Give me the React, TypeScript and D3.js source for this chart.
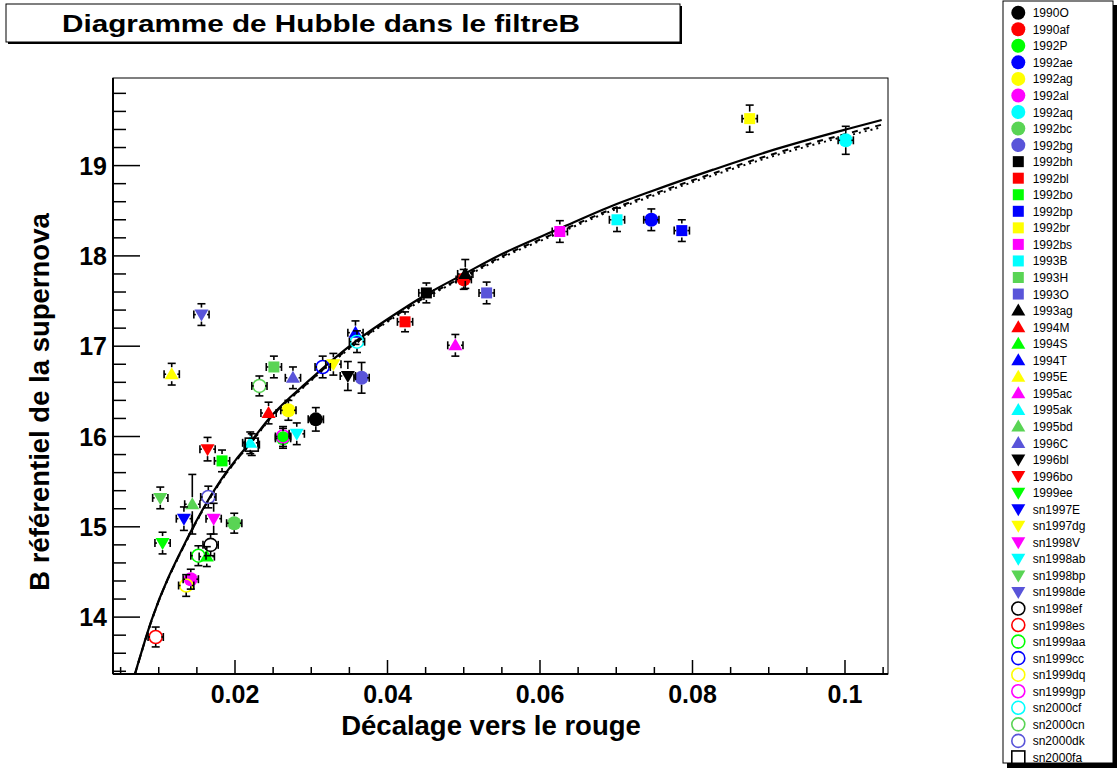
import React from "react";
import * as d3 from "d3";

// ---------- data ----------
const SN_NAMES = [
  "1990O", "1990af", "1992P", "1992ae", "1992ag", "1992al", "1992aq", "1992bc", "1992bg",
  "1992bh", "1992bl", "1992bo", "1992bp", "1992br", "1992bs", "1993B", "1993H", "1993O",
  "1993ag", "1994M", "1994S", "1994T", "1995E", "1995ac", "1995ak", "1995bd", "1996C",
  "1996bl", "1996bo", "1999ee", "sn1997E", "sn1997dg", "sn1998V", "sn1998ab", "sn1998bp", "sn1998de",
  "sn1998ef", "sn1998es", "sn1999aa", "sn1999cc", "sn1999dq", "sn1999gp", "sn2000cf", "sn2000cn", "sn2000dk",
  "sn2000fa",
];
const REDSHIFT = [
  0.0306, 0.05, 0.0263, 0.0746, 0.027, 0.0142, 0.1001, 0.0199, 0.0366,
  0.0451, 0.0423, 0.0183, 0.0786, 0.0875, 0.0626, 0.0701, 0.0251, 0.053,
  0.0502, 0.0244, 0.0163, 0.0358, 0.0117, 0.0489, 0.022, 0.0144, 0.0276,
  0.0348, 0.0164, 0.0105, 0.0133, 0.0329, 0.0172, 0.0281, 0.0102, 0.0156,
  0.0168, 0.0096, 0.0152, 0.0315, 0.0136, 0.0263, 0.036, 0.0232, 0.0165,
  0.0222,
];
const MAG_B = [
  16.19, 17.74, 15.98, 18.4, 16.29, 14.42, 19.28, 15.04, 16.65,
  17.59, 17.27, 15.73, 18.28, 19.52, 18.27, 18.4, 16.77, 17.59,
  17.8, 16.26, 14.67, 17.15, 16.69, 17.01, 15.93, 15.25, 16.65,
  16.67, 15.86, 14.82, 15.09, 16.8, 15.09, 16.03, 15.32, 17.35,
  14.8, 13.78, 14.68, 16.77, 14.35, 16.0, 17.05, 16.56, 15.33,
  15.91,
];
const MAG_ERR = [
  0.13, 0.11, 0.11, 0.12, 0.11, 0.11, 0.155, 0.11, 0.17,
  0.11, 0.11, 0.12, 0.12, 0.15, 0.12, 0.13, 0.12, 0.12,
  0.16, 0.12, 0.11, 0.13, 0.12, 0.12, 0.12, 0.33, 0.12,
  0.16, 0.13, 0.12, 0.13, 0.12, 0.17, 0.12, 0.12, 0.12,
  0.12, 0.11, 0.11, 0.12, 0.12, 0.11, 0.12, 0.11, 0.12,
  0.12,
];
const Z_ERR = [
  0.001, 0.001, 0.001, 0.001, 0.001, 0.001, 0.001, 0.001, 0.001,
  0.001, 0.001, 0.001, 0.001, 0.001, 0.001, 0.001, 0.001, 0.001,
  0.001, 0.001, 0.001, 0.001, 0.001, 0.001, 0.001, 0.001, 0.001,
  0.001, 0.001, 0.001, 0.001, 0.001, 0.001, 0.001, 0.001, 0.001,
  0.001, 0.001, 0.001, 0.001, 0.001, 0.001, 0.001, 0.001, 0.001,
  0.001,
];

const CURVE_Z = [
  0.00689, 0.00908, 0.01374, 0.01816, 0.02013, 0.02197, 0.02437, 0.02984, 0.03578, 0.04164,
  0.04514, 0.05039, 0.05475, 0.06262, 0.06918, 0.07443, 0.08273, 0.09104, 0.10009, 0.10481,
];
const CURVE_SOLID = [
  13.374, 13.972, 14.87, 15.52, 15.744, 15.93, 16.19, 16.63, 17.05, 17.39,
  17.575, 17.815, 18.01, 18.305, 18.545, 18.71, 18.955, 19.185, 19.4, 19.505,
];
const CURVE_DASHED = [
  13.37, 13.968, 14.863, 15.51, 15.734, 15.919, 16.178, 16.615, 17.032, 17.37,
  17.553, 17.79, 17.983, 18.274, 18.51, 18.673, 18.914, 19.14, 19.35, 19.453,
];
const CURVE_DOTTED = [
  13.369, 13.965, 14.86, 15.506, 15.729, 15.914, 16.172, 16.608, 17.024, 17.359,
  17.541, 17.777, 17.969, 18.258, 18.493, 18.654, 18.893, 19.117, 19.325, 19.426,
];

const X_MAJOR = [0.02, 0.04, 0.06, 0.08, 0.1];
const X_LABELS = ["0.02", "0.04", "0.06", "0.08", "0.1"];
const Y_MAJOR = [14, 15, 16, 17, 18, 19];
const Y_LABELS = ["14", "15", "16", "17", "18", "19"];

const COLORS = ["#000000", "#ff0000", "#00ff00", "#0000ff", "#ffff00", "#ff00ff", "#00ffff", "#59d454", "#5954d9"];
const MARKER_TYPES = ["circle", "square", "triUp", "triDown", "openCircle", "openSquare"];

const TITLE = "Diagramme de Hubble dans le filtreB";
const X_TITLE = "Décalage vers le rouge";
const Y_TITLE = "B référentiel de la supernova";

// ---------- layout ----------
const W = 1119;
const H = 768;
const PL = 113, PR = 888, PT = 78, PB = 674;
const FONT = "'Liberation Sans', Arial, Helvetica, sans-serif";

function Marker({ type, color, cx, cy }: { type: string; color: string; cx: number; cy: number }) {
  if (type === "circle") return <circle cx={cx} cy={cy} r={7} fill={color} />;
  if (type === "square") return <rect x={cx - 5.5} y={cy - 5.5} width={11} height={11} fill={color} />;
  if (type === "triUp")
    return <polygon points={`${cx},${cy - 7} ${cx + 7},${cy + 5} ${cx - 7},${cy + 5}`} fill={color} />;
  if (type === "triDown")
    return <polygon points={`${cx},${cy + 7} ${cx + 7},${cy - 5} ${cx - 7},${cy - 5}`} fill={color} />;
  if (type === "openCircle") return <circle cx={cx} cy={cy} r={6.5} fill="none" stroke={color} strokeWidth={1.6} />;
  return <rect x={cx - 6.5} y={cy - 6.5} width={13} height={13} fill="none" stroke={color} strokeWidth={1.6} />;
}

export default function App() {
  const x = d3.scaleLinear().domain([0.004, 0.10564]).range([PL, PR]);
  const y = d3.scaleLinear().domain([13.37, 19.97]).range([PB, PT]);

  const pts = SN_NAMES.map((name, i) => ({
    name,
    z: REDSHIFT[i],
    m: MAG_B[i],
    em: MAG_ERR[i],
    ez: Z_ERR[i],
    type: MARKER_TYPES[Math.floor(i / 9)],
    color: COLORS[i % 9],
  }));

  const line = d3
    .line<number>()
    .x((_, i) => x(CURVE_Z[i]))
    .curve(d3.curveMonotoneX);
  const solidPath = line.y((d) => y(d))(CURVE_SOLID) || "";
  const dashedPath = line.y((d) => y(d))(CURVE_DASHED) || "";
  const dottedPath = line.y((d) => y(d))(CURVE_DOTTED) || "";

  const xMinor = d3.range(0.005, 0.1056, 0.005).filter((v) => !X_MAJOR.some((m) => Math.abs(m - v) < 1e-6));
  const yMinor = d3.range(13.4, 19.97, 0.2).filter((v) => !Y_MAJOR.some((m) => Math.abs(m - v) < 1e-6));

  const legendTop = 12.7;
  const legendStep = 16.55;

  return (
    <svg
      width={W}
      height={H}
      viewBox={`0 0 ${W} ${H}`}
      style={{ position: "absolute", left: 0, top: 0, background: "#fff" }}
      fontFamily={FONT}
    >
      <rect x={0} y={0} width={W} height={H} fill="#fff" />
      <defs>
        <clipPath id="plotclip">
          <rect x={PL} y={PT} width={PR - PL} height={PB - PT} />
        </clipPath>
      </defs>

      {/* Title box */}
      <rect x={8} y={6} width={674} height={38} fill="#000" />
      <rect x={6} y={4} width={674} height={38} fill="#fff" stroke="#000" strokeWidth={1} />
      <text x={62} y={32} fontSize={24} fontWeight="bold" textLength={518} lengthAdjust="spacingAndGlyphs">
        {TITLE}
      </text>

      {/* frame */}
      <rect x={PL} y={PT} width={PR - PL} height={PB - PT} fill="none" stroke="#000" strokeWidth={1} />

      {/* curves */}
      <g clipPath="url(#plotclip)" fill="none" stroke="#000">
        <path d={dottedPath} strokeWidth={2} strokeDasharray="2,4" />
        <path d={dashedPath} strokeWidth={2} strokeDasharray="6,6" />
        <path d={solidPath} strokeWidth={2.2} />
      </g>

      {/* markers */}
      <g>
        {pts.map((p) => (
          <Marker key={p.name} type={p.type} color={p.color} cx={x(p.z)} cy={y(p.m)} />
        ))}
      </g>
      {/* error bars */}
      <g stroke="#000" strokeWidth={1.6} fill="none">
        {pts.map((p) => {
          const cx = x(p.z);
          const cy = y(p.m);
          const yt = y(p.m + p.em);
          const yb = y(p.m - p.em);
          const xl = x(p.z - p.ez);
          const xr = x(p.z + p.ez);
          const gap = 7;
          return (
            <g key={p.name}>
              {cy - yt > gap && <line x1={cx} x2={cx} y1={cy - gap} y2={yt} />}
              {yb - cy > gap && <line x1={cx} x2={cx} y1={cy + gap} y2={yb} />}
              <line x1={cx - 4} x2={cx + 4} y1={yt} y2={yt} />
              <line x1={cx - 4} x2={cx + 4} y1={yb} y2={yb} />
              <line x1={xl} x2={xl} y1={cy - 4} y2={cy + 4} />
              <line x1={xr} x2={xr} y1={cy - 4} y2={cy + 4} />
              <line x1={xl} x2={xl + 2} y1={cy} y2={cy} />
              <line x1={xr - 2} x2={xr} y1={cy} y2={cy} />
            </g>
          );
        })}
      </g>

      {/* axes */}
      <g stroke="#000">
        <line x1={PL} x2={PR} y1={PB} y2={PB} strokeWidth={2} />
        <line x1={PL} x2={PL} y1={PT} y2={PB} strokeWidth={2} />
        {X_MAJOR.map((v) => (
          <line key={`xm${v}`} x1={x(v)} x2={x(v)} y1={PB} y2={PB - 14} strokeWidth={1.5} />
        ))}
        {xMinor.map((v) => (
          <line key={`xn${v}`} x1={x(v)} x2={x(v)} y1={PB} y2={PB - 7} strokeWidth={1.5} />
        ))}
        {Y_MAJOR.map((v) => (
          <line key={`ym${v}`} x1={PL} x2={PL + 27} y1={y(v)} y2={y(v)} strokeWidth={1.5} />
        ))}
        {yMinor.map((v) => (
          <line key={`yn${v}`} x1={PL} x2={PL + 13} y1={y(v)} y2={y(v)} strokeWidth={1.5} />
        ))}
      </g>
      <g fontSize={25} fontWeight="bold">
        {X_MAJOR.map((v, i) => (
          <text key={`xl${v}`} x={x(v)} y={703} textAnchor="middle">
            {X_LABELS[i]}
          </text>
        ))}
        {Y_MAJOR.map((v, i) => (
          <text key={`yl${v}`} x={107} y={y(v) + 9} textAnchor="end">
            {Y_LABELS[i]}
          </text>
        ))}
      </g>
      <text x={491} y={735} textAnchor="middle" fontSize={27.5} fontWeight="bold">
        {X_TITLE}
      </text>
      <text
        transform={`translate(49, 402) rotate(-90)`}
        textAnchor="middle"
        fontSize={27.5}
        fontWeight="bold"
      >
        {Y_TITLE}
      </text>

      {/* legend */}
      <rect x={1007} y={5} width={110} height={763} fill="#000" />
      <rect x={1003} y={1} width={110} height={762} fill="#fff" stroke="#000" strokeWidth={1} />
      {pts.map((p, i) => {
        const ly = legendTop + i * legendStep;
        return (
          <g key={`lg${p.name}`}>
            <Marker type={p.type} color={p.color} cx={1018.3} cy={ly} />
            <text x={1032.7} y={ly + 4.5} fontSize={12}>
              {p.name}
            </text>
          </g>
        );
      })}
    </svg>
  );
}
